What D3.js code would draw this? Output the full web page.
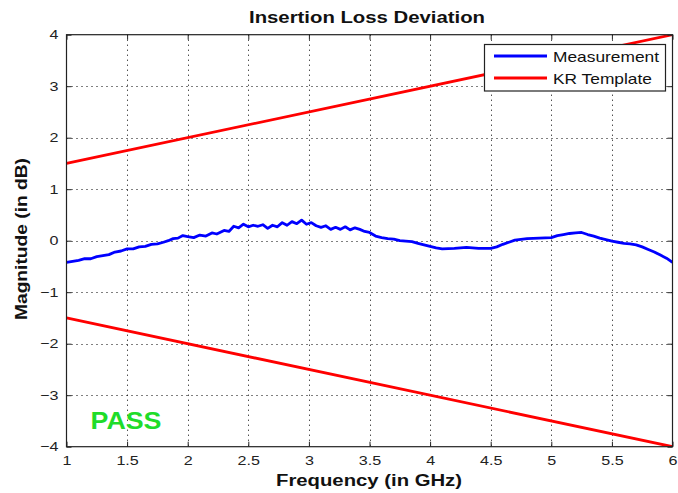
<!DOCTYPE html>
<html><head><meta charset="utf-8">
<script src="https://cdn.jsdelivr.net/npm/d3@7"></script>
<style>
html,body{margin:0;padding:0;background:#fff;}
svg{display:block;}
text{font-family:"Liberation Sans",Arial,Helvetica,sans-serif;}
</style></head>
<body>
<svg id="chart" width="678" height="493"></svg>
<script>
// ---- data ----
const xTicks = [1, 1.5, 2, 2.5, 3, 3.5, 4, 4.5, 5, 5.5, 6];
const yTicks = [-4, -3, -2, -1, 0, 1, 2, 3, 4];
const seriesNames = ["Measurement", "KR Template"];
const measFreq = [1.00,1.05,1.10,1.15,1.20,1.25,1.30,1.35,1.40,1.45,1.50,1.55,1.60,1.65,1.70,1.75,1.80,1.84,1.88,1.92,1.96,2.00,2.05,2.10,2.15,2.20,2.24,2.30,2.34,2.38,2.42,2.46,2.50,2.54,2.58,2.62,2.66,2.70,2.74,2.78,2.82,2.86,2.90,2.94,2.98,3.02,3.06,3.10,3.14,3.18,3.22,3.26,3.30,3.34,3.38,3.42,3.46,3.50,3.55,3.60,3.65,3.70,3.75,3.80,3.85,3.90,3.95,4.00,4.05,4.10,4.20,4.30,4.40,4.50,4.55,4.60,4.65,4.70,4.80,4.90,5.00,5.05,5.10,5.15,5.20,5.25,5.30,5.35,5.40,5.45,5.50,5.55,5.60,5.65,5.70,5.75,5.80,5.85,5.90,5.95,6.00];
const measMag  = [-0.42,-0.40,-0.38,-0.35,-0.35,-0.31,-0.29,-0.27,-0.22,-0.20,-0.16,-0.16,-0.12,-0.11,-0.07,-0.06,-0.03,0.00,0.04,0.05,0.10,0.08,0.06,0.11,0.09,0.15,0.13,0.20,0.18,0.28,0.25,0.32,0.27,0.30,0.28,0.31,0.24,0.30,0.27,0.35,0.30,0.37,0.33,0.40,0.32,0.35,0.29,0.26,0.29,0.22,0.26,0.22,0.27,0.21,0.25,0.22,0.18,0.16,0.09,0.06,0.04,0.03,0.00,-0.01,-0.02,-0.05,-0.08,-0.11,-0.14,-0.16,-0.15,-0.13,-0.15,-0.15,-0.12,-0.07,-0.03,0.01,0.04,0.05,0.06,0.10,0.12,0.14,0.15,0.16,0.12,0.09,0.05,0.02,-0.01,-0.03,-0.05,-0.06,-0.08,-0.12,-0.17,-0.22,-0.28,-0.34,-0.42];
const templateFreq  = [1, 6];
const templateUpper = [1.5, 4];
const templateLower = [-1.5, -4];
const titleText = "Insertion Loss Deviation";
const xLabel = "Frequency (in GHz)";
const yLabel = "Magnitude (in dB)";
const verdict = "PASS";

// ---- layout ----
const L = 66.5, R = 672.5, T = 34.7, B = 446.7;
const SX = 1.24; // horizontal text stretch
const svg = d3.select("#chart");
const x = d3.scaleLinear().domain([1, 6]).range([L, R]);
const y = d3.scaleLinear().domain([-4, 4]).range([B, T]);

svg.append("rect").attr("width",678).attr("height",493).attr("fill","#fff");

// grid
const grid = svg.append("g").attr("stroke","#000").attr("stroke-width",1).attr("stroke-dasharray","1,4");
grid.selectAll("line.gx").data(xTicks.slice(1,-1)).join("line")
  .attr("x1",d=>Math.round(x(d))+0.5).attr("x2",d=>Math.round(x(d))+0.5).attr("y1",T).attr("y2",B);
grid.selectAll("line.gy").data(yTicks.slice(1,-1)).join("line")
  .attr("y1",d=>Math.round(y(d))+0.5).attr("y2",d=>Math.round(y(d))+0.5).attr("x1",L).attr("x2",R);

// lines
const clip = svg.append("clipPath").attr("id","pc").append("rect")
  .attr("x",L).attr("y",T).attr("width",R-L).attr("height",B-T);
const line = d3.line().x(d=>x(d[0])).y(d=>y(d[1]));
const plot = svg.append("g").attr("clip-path","url(#pc)");
plot.append("path").datum(templateFreq.map((f,i)=>[f,templateUpper[i]]))
  .attr("d",line).attr("fill","none").attr("stroke","#ff0000").attr("stroke-width",2.8);
plot.append("path").datum(templateFreq.map((f,i)=>[f,templateLower[i]]))
  .attr("d",line).attr("fill","none").attr("stroke","#ff0000").attr("stroke-width",2.8);
plot.append("path").datum(measFreq.map((f,i)=>[f,measMag[i]]))
  .attr("d",line).attr("fill","none").attr("stroke","#0000ff").attr("stroke-width",2.8).attr("stroke-linejoin","round");

// axes
function styleAxis(g){
  g.select(".domain").remove();
  g.selectAll(".tick line").attr("stroke","#222");
  g.selectAll(".tick text").attr("fill","#222").style("font-size","13px")
    .style("font-family","'Liberation Sans',Arial,sans-serif");
}
const xb = svg.append("g").attr("transform",`translate(0,${B})`)
  .call(d3.axisBottom(x).tickValues(xTicks).tickFormat(d3.format("")).tickSizeInner(-5).tickSizeOuter(0).tickPadding(10));
styleAxis(xb);
xb.selectAll(".tick text").attr("transform",`scale(${SX},1)`).attr("y",9).attr("dy","0.71em");
const xt = svg.append("g").attr("transform",`translate(0,${T})`)
  .call(d3.axisTop(x).tickValues(xTicks).tickFormat("").tickSizeInner(-5).tickSizeOuter(0));
styleAxis(xt);
const yl = svg.append("g").attr("transform",`translate(${L},0)`)
  .call(d3.axisLeft(y).tickValues(yTicks).tickFormat(d=>d<0?"\u2212"+Math.abs(d):d).tickSizeInner(-5).tickSizeOuter(0));
styleAxis(yl);
yl.selectAll(".tick text").attr("x",-8/SX).attr("transform",`scale(${SX},1)`);
const yr = svg.append("g").attr("transform",`translate(${R},0)`)
  .call(d3.axisRight(y).tickValues(yTicks).tickFormat("").tickSizeInner(-5).tickSizeOuter(0));
styleAxis(yr);

// box
svg.append("rect").attr("x",L).attr("y",T).attr("width",R-L).attr("height",B-T)
  .attr("fill","none").attr("stroke","#222").attr("stroke-width",1.2);

// legend
const lg = svg.append("g");
lg.append("rect").attr("x",484.5).attr("y",44.5).attr("width",181).attr("height",46.5)
  .attr("fill","#fff").attr("stroke","#222").attr("stroke-width",1.2);
const legColors = ["#0000ff","#ff0000"];
const legY = [56, 78];
seriesNames.forEach((n,i)=>{
  lg.append("line").attr("x1",494).attr("x2",547).attr("y1",legY[i]).attr("y2",legY[i])
    .attr("stroke",legColors[i]).attr("stroke-width",2.8);
  lg.append("text").attr("transform",`translate(553,${legY[i]+5.5}) scale(${SX},1)`)
    .style("font-size","14px").attr("fill","#111").text(n);
});

// title & labels
svg.append("text").attr("x",367).attr("y",23.3).attr("text-anchor","middle")
  .style("font-size","16px").style("font-weight","bold").attr("fill","#111")
  .attr("textLength",236).attr("lengthAdjust","spacingAndGlyphs").text(titleText);
svg.append("text").attr("x",369).attr("y",486).attr("text-anchor","middle")
  .style("font-size","16px").style("font-weight","bold").attr("fill","#111")
  .attr("textLength",186).attr("lengthAdjust","spacingAndGlyphs").text(xLabel);
svg.append("text").attr("transform","translate(26.5,239) rotate(-90)").attr("text-anchor","middle")
  .style("font-size","16px").style("font-weight","bold").attr("fill","#111")
  .attr("textLength",162).attr("lengthAdjust","spacingAndGlyphs").text(yLabel);

// verdict
svg.append("text").attr("x",90.5).attr("y",429).style("font-size","24px").style("font-weight","bold")
  .attr("fill","#1fdc2a").attr("textLength",71).attr("lengthAdjust","spacingAndGlyphs").text(verdict);
</script>
</body></html>
